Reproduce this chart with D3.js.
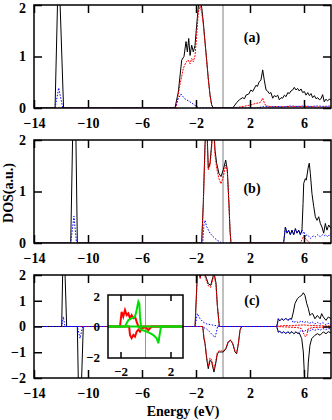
<!DOCTYPE html>
<html><head><meta charset="utf-8">
<script src="https://cdn.jsdelivr.net/npm/d3@7"></script>
<style>body{margin:0;background:#fff}svg{display:block}</style>
</head><body><svg id="c" width="332" height="420"></svg>
<script>
// ---------- data (energy eV, DOS a.u.) ----------
const xTicks = [-14,-10,-6,-2,2,6];
const yTicksAB = [0,1,2];
const yTicksC = [-2,-1,0,1,2];
const panelLabels = ["(a)","(b)","(c)"];

// panel (a)
const aTotal = [[-14,0],[-12.44,0],[-12.18,2.9],[-11.81,0],[-3.56,0],[-3.31,0.31],[-3.06,0.93],[-2.89,1.0],[-2.74,1.29],[-2.64,1.09],[-2.54,1.35],[-2.44,1.02],[-2.32,1.22],[-2.2,1.09],[-2.07,1.22],[-1.95,1.61],[-1.83,1.96],[-1.72,2.1],[-1.58,1.96],[-1.46,1.67],[-1.33,1.28],[-1.21,0.93],[-1.09,0.57],[-0.96,0.25],[-0.84,0.06],[-0.72,0],[0.72,0],[1.0,0.1],[1.21,0.16],[1.45,0.2],[1.6,0.18],[1.70,0.25],[1.9,0.27],[2.07,0.35],[2.2,0.32],[2.44,0.44],[2.55,0.42],[2.68,0.51],[2.81,0.54],[2.94,0.74],[3.06,0.54],[3.19,0.35],[3.3,0.33],[3.43,0.28],[3.55,0.3],[3.68,0.19],[3.8,0.24],[3.93,0.22],[4.05,0.25],[4.17,0.16],[4.3,0.2],[4.42,0.19],[4.55,0.25],[4.67,0.22],[4.8,0.3],[4.91,0.28],[5.03,0.33],[5.16,0.35],[5.28,0.40],[5.41,0.35],[5.53,0.38],[5.65,0.33],[5.78,0.37],[5.9,0.3],[6.03,0.32],[6.15,0.25],[6.28,0.3],[6.4,0.24],[6.52,0.28],[6.64,0.2],[6.77,0.24],[6.89,0.18],[7.02,0.2],[7.14,0.16],[7.26,0.18],[7.38,0.26],[7.5,0.12],[7.62,0.17],[7.75,0.14],[7.87,0.17],[8,0.16]];
const aRed = [[-14,0],[-3.48,0],[-3.19,0.45],[-2.94,0.77],[-2.74,0.89],[-2.57,0.93],[-2.44,0.86],[-2.32,0.96],[-2.2,0.9],[-2.07,1.02],[-1.95,1.41],[-1.83,1.86],[-1.70,1.98],[-1.58,1.86],[-1.46,1.62],[-1.33,1.26],[-1.21,0.92],[-1.09,0.56],[-0.96,0.24],[-0.84,0.05],[-0.72,0],[0.72,0],[1.5,0.03],[2.07,0.06],[2.44,0.09],[2.68,0.1],[2.81,0.12],[2.94,0.19],[3.06,0.1],[3.19,0.04],[3.5,0.03],[4,0.02],[5,0.03],[6,0.03],[7,0.02],[8,0.02]];
const aBlue = [[-14,0],[-12.44,0],[-12.17,0.39],[-11.87,0],[-3.56,0],[-3.31,0.18],[-3.11,0.27],[-2.84,0.18],[-2.44,0.12],[-2.07,0.05],[-1.83,0.01],[-1.7,0],[2.5,0],[3,0.03],[3.5,0.02],[4,0.03],[4.5,0.02],[5,0.04],[5.5,0.03],[6,0.04],[6.5,0.03],[7,0.04],[7.5,0.03],[8,0.04]];

// panel (b)
const bTotal = [[-14,0],[-11.28,0],[-11.0,4.1],[-10.79,0],[-1.58,0],[-1.46,0.77],[-1.33,1.93],[-1.25,2.3],[-1.17,2.1],[-1.09,1.45],[-0.96,1.55],[-0.84,1.93],[-0.75,2.3],[-0.65,2.1],[-0.59,1.80],[-0.47,1.55],[-0.30,1.35],[-0.15,1.29],[0.02,1.42],[0.2,1.61],[0.32,1.42],[0.44,0.77],[0.52,0.25],[0.59,0],[4.49,0],[4.62,0.31],[4.74,0.19],[4.86,0.25],[4.99,0.16],[5.11,0.25],[5.24,0.16],[5.36,0.28],[5.48,0.19],[5.61,0.25],[5.73,0.16],[5.85,0.25],[5.93,0.77],[5.98,1.16],[6.1,1.25],[6.17,1.22],[6.30,1.45],[6.39,1.55],[6.47,1.35],[6.59,0.96],[6.72,0.71],[6.84,0.51],[6.96,0.44],[7.09,0.51],[7.21,0.38],[7.33,0.31],[7.46,0.19],[7.58,0.38],[7.70,0.25],[7.83,0.35],[8,0.28]];
const bRed = [[-14,0],[-1.58,0],[-1.46,0.72],[-1.33,1.85],[-1.25,2.2],[-1.17,2.0],[-1.09,1.42],[-0.96,1.5],[-0.84,1.85],[-0.75,2.2],[-0.65,2.0],[-0.59,1.7],[-0.47,1.45],[-0.30,1.25],[-0.15,1.15],[0.02,1.29],[0.2,1.51],[0.32,1.38],[0.44,0.75],[0.52,0.24],[0.59,0],[5.73,0],[5.9,0.09],[5.98,0.14],[6.1,0.09],[6.3,0.03],[6.47,0],[8,0]];
const bBlue = [[-14,0],[-11.28,0],[-11.04,0.52],[-10.85,0],[-1.5,0],[-1.41,0.38],[-1.33,0.44],[-1.21,0.32],[-0.96,0.19],[-0.72,0.12],[-0.47,0.06],[-0.22,0.02],[-0.1,0],[4.49,0],[4.62,0.31],[4.74,0.19],[4.86,0.25],[4.99,0.16],[5.11,0.25],[5.24,0.16],[5.36,0.28],[5.48,0.19],[5.61,0.25],[5.73,0.16],[5.85,0.25],[5.93,0.19],[6.0,0.22],[6.1,0.12],[6.2,0.16],[6.3,0.15],[6.47,0.09],[6.6,0.12],[6.72,0.14],[6.84,0.12],[7.0,0.16],[7.1,0.14],[7.2,0.12],[7.35,0.16],[7.5,0.14],[7.6,0.16],[7.75,0.12],[8,0.19]];

// panel (c) spin up (positive) and spin down (negative)
const cTotalUp = [[-14,0],[-11.95,0],[-11.81,3.9],[-11.58,0],[-2.07,0],[-1.9,2.1],[-1.78,2.2],[-1.70,1.92],[-1.6,2.15],[-1.46,2.2],[-1.35,2.05],[-1.21,1.85],[-1.09,1.66],[-0.91,1.6],[-0.76,1.9],[-0.67,2.1],[-0.52,1.7],[-0.42,0.82],[-0.27,0],[3.98,0],[4.10,0.3],[4.2,0.22],[4.35,0.3],[4.5,0.24],[4.65,0.32],[4.8,0.24],[4.95,0.3],[5.09,0.3],[5.21,0.56],[5.33,0.89],[5.51,1.08],[5.65,1.15],[5.83,1.21],[5.95,1.31],[6.07,1.21],[6.2,0.9],[6.32,0.7],[6.44,0.43],[6.57,0.5],[6.64,0.5],[6.81,0.30],[6.99,0.43],[7.19,0.30],[7.31,0.5],[7.43,0.37],[7.63,0.24],[7.8,0.37],[8,0.3]];
const cTotalDn = [[-14,0],[-10.79,0],[-10.63,-4.6],[-10.35,0],[-1.5,0],[-1.41,-0.47],[-1.33,-0.67],[-1.21,-1.25],[-1.09,-1.64],[-0.96,-1.31],[-0.84,-1.38],[-0.67,-1.77],[-0.52,-1.38],[-0.42,-1.06],[-0.27,-0.99],[-0.10,-0.99],[0.02,-0.99],[0.22,-0.86],[0.39,-0.60],[0.57,-0.54],[0.72,-0.67],[0.89,-0.99],[1.01,-1.06],[1.14,-0.67],[1.26,-0.15],[1.38,0],[3.98,0],[4.10,-0.22],[4.2,-0.18],[4.35,-0.26],[4.5,-0.2],[4.65,-0.28],[4.8,-0.2],[4.95,-0.27],[5.1,-0.2],[5.25,-0.28],[5.4,-0.21],[5.55,-0.27],[5.65,-0.25],[5.83,-0.47],[5.95,-0.99],[6.02,-1.77],[6.07,-2.3],[6.15,-2.5],[6.25,-2.2],[6.32,-1.38],[6.44,-0.73],[6.57,-0.47],[6.81,-0.34],[6.99,-0.28],[7.19,-0.34],[7.43,-0.21],[7.63,-0.28],[7.8,-0.2],[8,-0.25]];
const cRedUp = [[-14,0],[-2.07,0],[-1.9,1.95],[-1.78,2.1],[-1.70,1.85],[-1.6,2.05],[-1.46,2.1],[-1.35,1.95],[-1.21,1.75],[-1.09,1.58],[-0.91,1.52],[-0.76,1.8],[-0.67,2.0],[-0.52,1.62],[-0.42,0.8],[-0.27,0],[3.98,0],[4.5,0.04],[5.0,0.03],[5.5,0.05],[6.0,0.06],[6.5,0.04],[7,0.03],[8,0.02]];
const cRedDn = [[-14,0],[-1.5,0],[-1.41,-0.44],[-1.33,-0.62],[-1.21,-1.17],[-1.09,-1.55],[-0.96,-1.22],[-0.84,-1.3],[-0.67,-1.68],[-0.52,-1.3],[-0.42,-1.0],[-0.27,-0.94],[-0.10,-0.95],[0.02,-0.96],[0.22,-0.83],[0.39,-0.58],[0.57,-0.52],[0.72,-0.65],[0.89,-0.96],[1.01,-1.03],[1.14,-0.65],[1.26,-0.14],[1.38,0],[3.98,0],[5.5,-0.04],[5.8,-0.08],[6.0,-0.3],[6.1,-0.4],[6.2,-0.35],[6.3,-0.1],[6.6,-0.04],[8,-0.02]];
const cBlueUp = [[-14,0],[-11.95,0],[-11.83,0.38],[-11.7,0],[-2.07,0],[-1.9,0.5],[-1.7,0.3],[-1.46,0.17],[-1.21,0.1],[-0.8,0.06],[-0.4,0.02],[-0.2,0],[3.98,0],[4.10,0.3],[4.2,0.22],[4.35,0.3],[4.5,0.24],[4.65,0.32],[4.8,0.24],[4.95,0.3],[5.09,0.28],[5.2,0.15],[5.4,0.2],[5.6,0.15],[5.8,0.22],[6.0,0.15],[6.2,0.2],[6.4,0.12],[6.6,0.18],[6.8,0.1],[7.0,0.16],[7.2,0.1],[7.4,0.15],[7.6,0.08],[7.8,0.12],[8,0.08]];
const cBlueDn = [[-14,0],[-10.79,0],[-10.59,-0.46],[-10.4,0],[-1.6,0],[-1.46,-0.03],[-1.21,-0.1],[-1.0,-0.2],[-0.8,-0.32],[-0.6,-0.42],[-0.5,-0.25],[-0.4,0],[3.98,0],[4.10,-0.22],[4.2,-0.18],[4.35,-0.26],[4.5,-0.2],[4.65,-0.28],[4.8,-0.2],[4.95,-0.27],[5.1,-0.2],[5.25,-0.28],[5.4,-0.21],[5.55,-0.27],[5.65,-0.22],[5.8,-0.15],[6.0,-0.2],[6.2,-0.12],[6.4,-0.18],[6.6,-0.1],[6.8,-0.15],[7.0,-0.1],[7.2,-0.14],[7.4,-0.08],[7.6,-0.12],[7.8,-0.08],[8,-0.1]];

// inset of panel (c)
const insetXTicks = [-2,2];
const insetYTicks = [-2,0,2];
const insRedUp = [[-3,0],[-2.04,0],[-1.91,0.97],[-1.78,0.64],[-1.64,1.08],[-1.51,0.75],[-1.37,0.86],[-1.24,0.53],[-1.11,0.75],[-0.97,0.55],[-0.84,0.64],[-0.71,0.32],[-0.57,0],[3,0]];
const insGreenUp = [[-3,0],[-1.64,0],[-1.37,0.43],[-1.11,0.53],[-0.84,0.64],[-0.71,1.08],[-0.57,1.64],[-0.49,1.5],[-0.44,0.64],[-0.36,0],[3,0]];
const insRedDn = [[-3,0],[-1.31,0],[-1.24,-0.56],[-1.11,-0.77],[-0.97,-0.56],[-0.84,-0.67],[-0.71,-0.34],[-0.57,-0.2],[-0.44,-0.34],[-0.31,-0.12],[0,-0.05],[0.23,-0.23],[0.36,-0.12],[0.49,0],[3,0]];
const insGreenDn = [[-3,0],[-0.57,0],[-0.31,-0.23],[0,-0.3],[0.36,-0.44],[0.63,-0.56],[0.89,-0.77],[1.03,-1.1],[1.12,-0.6],[1.24,0],[3,0]];

// ---------- drawing ----------
const svg = d3.select("#c");
const FONT = "Liberation Serif, Times New Roman, serif";
const x = d3.scaleLinear().domain([-14,8]).range([34,331]);
const fmt = d3.format("d");

const panels = [
  {top:5, bottom:108, dom:[0,2], yt:yTicksAB, label:panelLabels[0], lx:252, ly:42,
   series:[[aTotal,"#000",null],[aRed,"#f00","2,1"],[aBlue,"#00f","1.5,1.5"]]},
  {top:140, bottom:243, dom:[0,2], yt:yTicksAB, label:panelLabels[1], lx:252, ly:193,
   series:[[bTotal,"#000",null],[bRed,"#f00","2,1"],[bBlue,"#00f","1.5,1.5"]]},
  {top:275, bottom:378, dom:[-2,2], yt:yTicksC, label:panelLabels[2], lx:252, ly:305,
   series:[[cTotalUp,"#000",null],[cTotalDn,"#000",null],[cRedUp,"#f00","2,1"],[cRedDn,"#f00","2,1"],[cBlueUp,"#00f","1.5,1.5"],[cBlueDn,"#00f","1.5,1.5"]]}
];

panels.forEach((p,i)=>{
  const y = d3.scaleLinear().domain(p.dom).range([p.bottom,p.top]);
  const cid = "clip"+i;
  svg.append("clipPath").attr("id",cid).append("rect")
    .attr("x",x(-14)).attr("y",p.top).attr("width",x(8)-x(-14)).attr("height",p.bottom-p.top);
  const g = svg.append("g").attr("clip-path",`url(#${cid})`);
  // Fermi level
  g.append("line").attr("x1",x(0)).attr("x2",x(0)).attr("y1",p.top).attr("y2",p.bottom)
    .attr("stroke","#808080").attr("stroke-width",1);
  const line = d3.line().x(d=>x(d[0])).y(d=>y(d[1]));
  p.series.forEach(([data,col,dash])=>{
    const path = g.append("path").attr("d",line(data)).attr("fill","none")
      .attr("stroke",col).attr("stroke-width",1);
    if(dash) path.attr("stroke-dasharray",dash);
  });
  // axes
  const ax = (gen,tr)=>{
    const a = svg.append("g").attr("transform",tr).call(gen);
    a.select(".domain").remove();
    a.selectAll(".tick line").attr("stroke","#000").attr("stroke-width",1.5);
    a.selectAll("text").attr("font-family",FONT).attr("font-size",14).attr("font-weight","bold").attr("fill","#000");
    return a;
  };
  ax(d3.axisBottom(x).tickValues(xTicks).tickSize(-8).tickPadding(10).tickFormat(fmt), `translate(0,${p.bottom})`);
  ax(d3.axisTop(x).tickValues(xTicks).tickSize(-8).tickFormat(""), `translate(0,${p.top})`);
  const la = ax(d3.axisLeft(y).tickValues(p.yt).tickSize(-8).tickPadding(8).tickFormat(fmt), `translate(${x(-14)},0)`);
  if(i===0){
    // keep the topmost label inside the picture
    la.selectAll(".tick").filter(d=>d===2).select("text").attr("dy","0.5em");
  }
  ax(d3.axisRight(y).tickValues(p.yt).tickSize(-8).tickFormat(""), `translate(${x(8)},0)`);
  svg.append("rect").attr("x",x(-14)).attr("y",p.top).attr("width",x(8)-x(-14)).attr("height",p.bottom-p.top)
    .attr("fill","none").attr("stroke","#000").attr("stroke-width",1.5);
  svg.append("text").attr("x",p.lx).attr("y",p.ly).attr("text-anchor","middle")
    .attr("font-family",FONT).attr("font-size",14).attr("font-weight","bold").text(p.label);
});

// inset
const ix = d3.scaleLinear().domain([-3,3]).range([108,183]);
const iy = d3.scaleLinear().domain([-2.07,2.07]).range([358,295]);
svg.append("rect").attr("x",108).attr("y",295).attr("width",75).attr("height",63).attr("fill","#fff");
svg.append("clipPath").attr("id","clipI").append("rect").attr("x",108).attr("y",295).attr("width",75).attr("height",63);
const gi = svg.append("g").attr("clip-path","url(#clipI)");
gi.append("line").attr("x1",ix(0)).attr("x2",ix(0)).attr("y1",295).attr("y2",358).attr("stroke","#999").attr("stroke-width",1);
const iline = d3.line().x(d=>ix(d[0])).y(d=>iy(d[1]));
[[insRedUp,"#f00"],[insRedDn,"#f00"],[insGreenUp,"#0d0"],[insGreenDn,"#0d0"]].forEach(([d,c])=>{
  gi.append("path").attr("d",iline(d)).attr("fill","none").attr("stroke",c).attr("stroke-width",2);
});
const iax = (gen,tr)=>{
  const a = svg.append("g").attr("transform",tr).call(gen);
  a.select(".domain").remove();
  a.selectAll(".tick line").attr("stroke","#000").attr("stroke-width",1.5);
  a.selectAll("text").attr("font-family",FONT).attr("font-size",13).attr("font-weight","bold").attr("fill","#000");
  return a;
};
iax(d3.axisBottom(ix).tickValues(insetXTicks).tickSize(-6).tickPadding(9).tickFormat(fmt),"translate(0,358)");
iax(d3.axisTop(ix).tickValues(insetXTicks).tickSize(-6).tickFormat(""),"translate(0,295)");
iax(d3.axisLeft(iy).tickValues(insetYTicks).tickSize(0).tickPadding(8).tickFormat(fmt),"translate(108,0)");
svg.append("rect").attr("x",108).attr("y",295).attr("width",75).attr("height",63)
  .attr("fill","none").attr("stroke","#000").attr("stroke-width",1.5);

// axis titles
svg.append("text").attr("x",183).attr("y",416).attr("text-anchor","middle")
  .attr("font-family",FONT).attr("font-size",14).attr("font-weight","bold").text("Energy (eV)");
svg.append("text").attr("transform","translate(13,193) rotate(-90)").attr("text-anchor","middle")
  .attr("font-family",FONT).attr("font-size",14).attr("font-weight","bold").text("DOS(a.u.)");
</script></body></html>
